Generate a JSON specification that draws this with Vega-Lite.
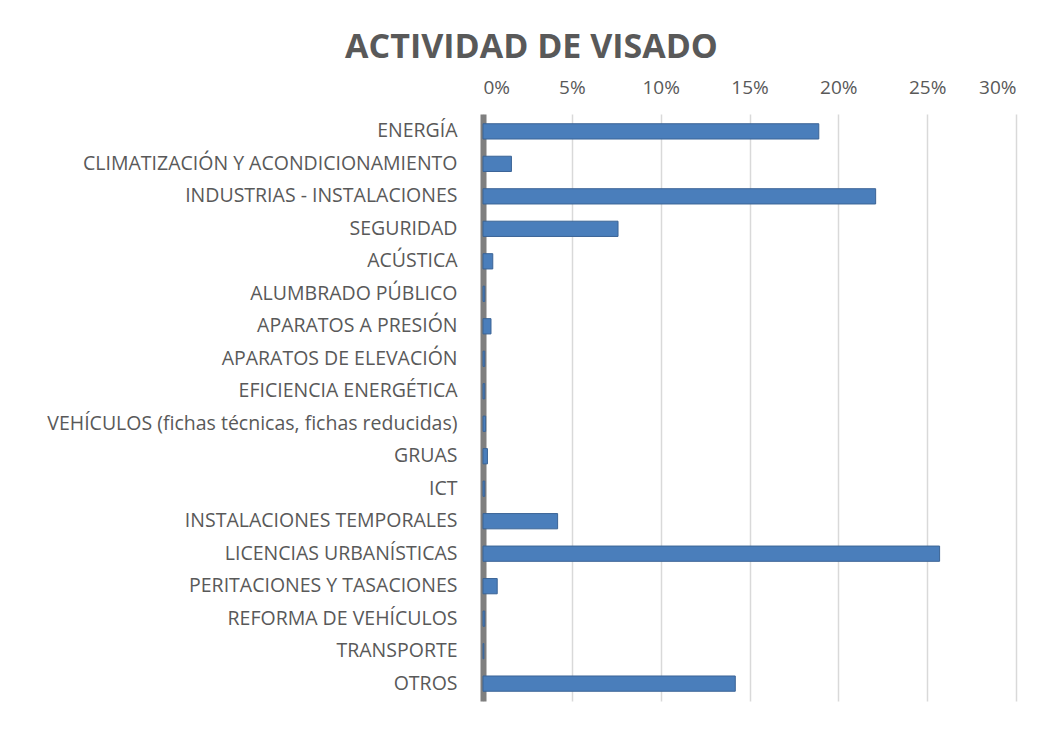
{
  "$schema": "https://vega.github.io/schema/vega-lite/v6.json",
  "width": 533,
  "height": 587,
  "autosize": {"type": "none"},
  "padding": {"left": 483, "top": 114, "right": 35, "bottom": 52},
  "background": "white",
  "title": {
    "text": "ACTIVIDAD DE VISADO",
    "anchor": "middle",
    "dx": -218,
    "offset": 13,
    "fontSize": 34,
    "font": "Open Sans",
    "fontWeight": "bold",
    "color": "#595959"
  },
  "data": {
    "values": [
      {"categoria": "ENERGÍA", "valor": 0.189},
      {"categoria": "CLIMATIZACIÓN Y ACONDICIONAMIENTO", "valor": 0.016},
      {"categoria": "INDUSTRIAS - INSTALACIONES", "valor": 0.221},
      {"categoria": "SEGURIDAD", "valor": 0.076},
      {"categoria": "ACÚSTICA", "valor": 0.0055},
      {"categoria": "ALUMBRADO PÚBLICO", "valor": 0.001},
      {"categoria": "APARATOS A PRESIÓN", "valor": 0.0045},
      {"categoria": "APARATOS DE ELEVACIÓN", "valor": 0.001},
      {"categoria": "EFICIENCIA ENERGÉTICA", "valor": 0.001},
      {"categoria": "VEHÍCULOS (fichas técnicas,  fichas reducidas)", "valor": 0.0015},
      {"categoria": "GRUAS", "valor": 0.0025},
      {"categoria": "ICT", "valor": 0.001},
      {"categoria": "INSTALACIONES TEMPORALES", "valor": 0.042},
      {"categoria": "LICENCIAS URBANÍSTICAS", "valor": 0.257},
      {"categoria": "PERITACIONES Y TASACIONES", "valor": 0.008},
      {"categoria": "REFORMA DE VEHÍCULOS", "valor": 0.001},
      {"categoria": "TRANSPORTE", "valor": 0.0005},
      {"categoria": "OTROS", "valor": 0.142}
    ]
  },
  "mark": {"type": "bar", "color": "#4A7EBB", "stroke": "#3B6496", "strokeWidth": 1},
  "encoding": {
    "y": {
      "field": "categoria",
      "type": "nominal",
      "sort": null,
      "scale": {"paddingInner": 0.53, "paddingOuter": 0.3},
      "axis": {
        "title": null,
        "labelFont": "Open Sans",
        "labelFontSize": 19.5,
        "labelColor": "#595959",
        "labelPadding": 26,
        "labelLimit": 600,
        "ticks": false,
        "domainColor": "#7f7f7f",
        "domainWidth": 6
      }
    },
    "x": {
      "field": "valor",
      "type": "quantitative",
      "scale": {"domain": [0, 0.3]},
      "axis": {
        "orient": "top",
        "format": ".0%",
        "values": [0, 0.05, 0.1, 0.15, 0.2, 0.25, 0.3],
        "title": null,
        "grid": true,
        "gridColor": "#d9d9d9",
        "gridWidth": 1.5,
        "domain": false,
        "ticks": false,
        "labelFont": "Open Sans",
        "labelFontSize": 19,
        "labelColor": "#595959",
        "labelPadding": 17
      }
    }
  },
  "config": {"view": {"stroke": null}}
}
